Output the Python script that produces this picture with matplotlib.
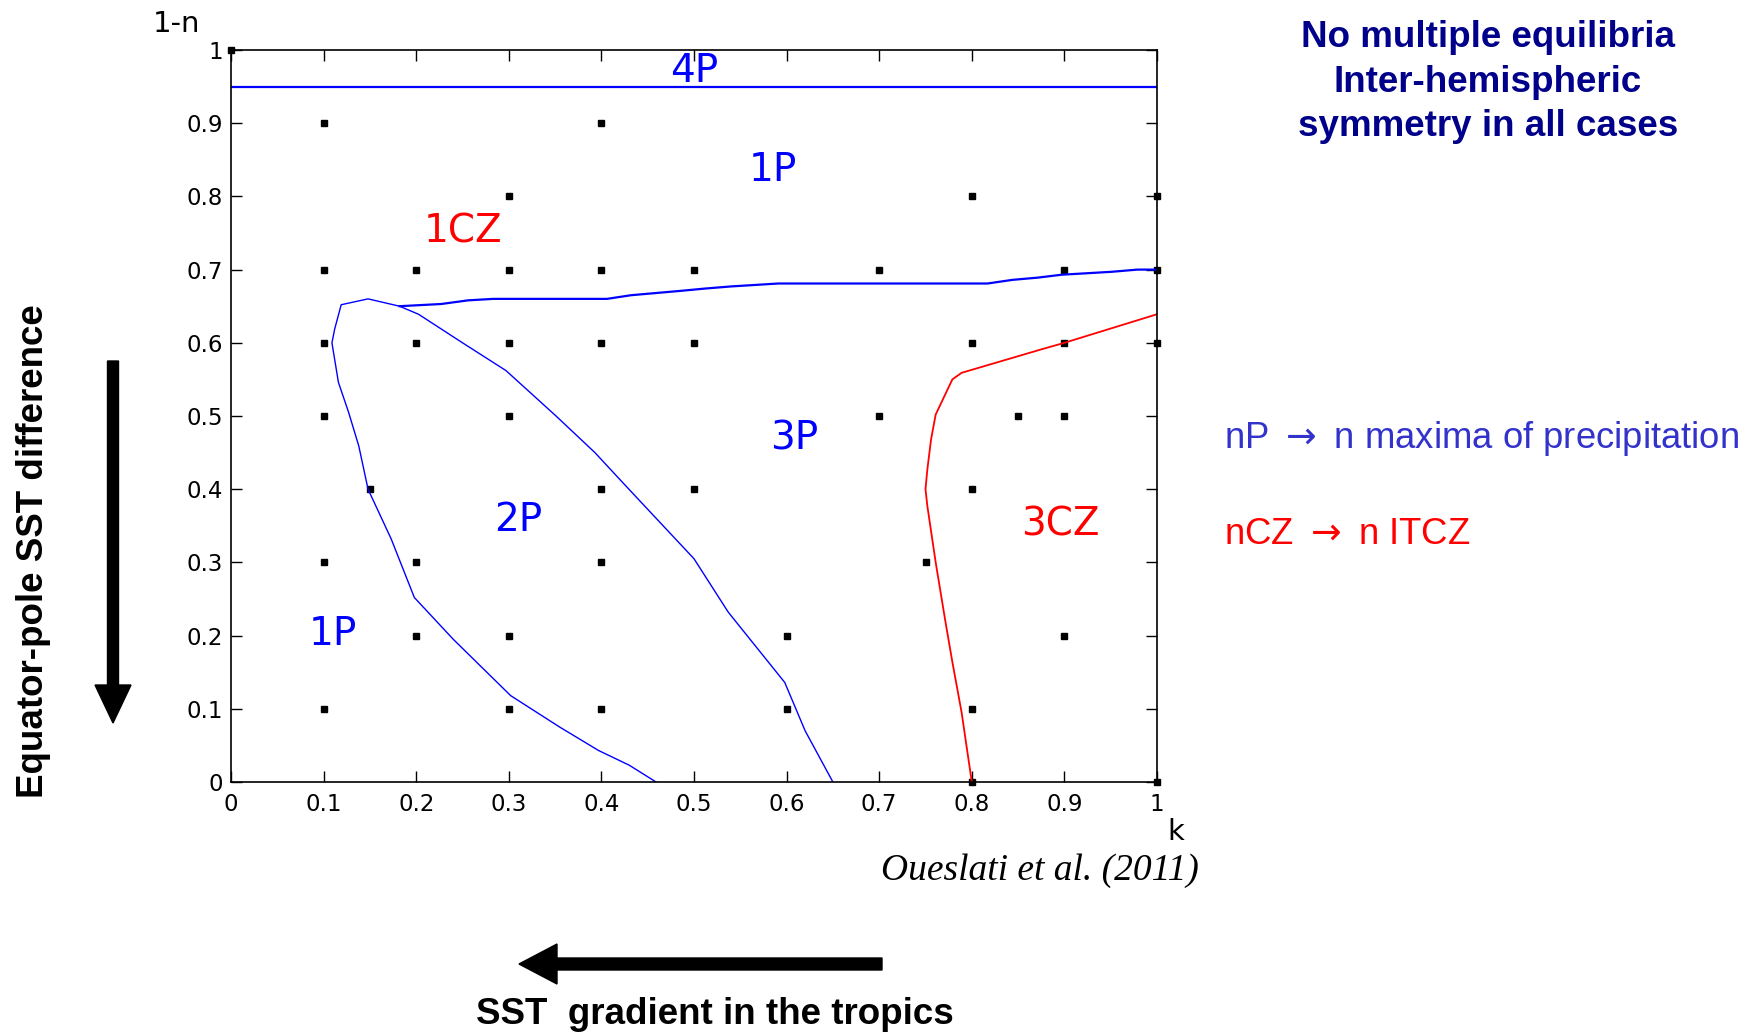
import matplotlib.pyplot as plt

# grid of model runs (k, 1-n)
run_k = [0.0, 0.1, 0.4,
         0.3, 0.8, 1.0,
         0.1, 0.2, 0.3, 0.4, 0.5, 0.7, 0.9, 1.0,
         0.1, 0.2, 0.3, 0.4, 0.5, 0.8, 0.9, 1.0,
         0.1, 0.3, 0.7, 0.85, 0.9,
         0.15, 0.4, 0.5, 0.8,
         0.1, 0.2, 0.4, 0.75,
         0.2, 0.3, 0.6, 0.9,
         0.1, 0.3, 0.4, 0.6, 0.8,
         0.8, 1.0]
run_n = [1.0, 0.9, 0.9,
         0.8, 0.8, 0.8,
         0.7, 0.7, 0.7, 0.7, 0.7, 0.7, 0.7, 0.7,
         0.6, 0.6, 0.6, 0.6, 0.6, 0.6, 0.6, 0.6,
         0.5, 0.5, 0.5, 0.5, 0.5,
         0.4, 0.4, 0.4, 0.4,
         0.3, 0.3, 0.3, 0.3,
         0.2, 0.2, 0.2, 0.2,
         0.1, 0.1, 0.1, 0.1, 0.1,
         0.0, 0.0]

# boundary of the 2P region (left branch, top, lower branch)
loop_k = [0.459, 0.43, 0.397, 0.355, 0.302, 0.24, 0.198, 0.173, 0.148, 0.138, 0.127,
          0.116, 0.109, 0.112, 0.119, 0.148, 0.182, 0.2025, 0.25, 0.297, 0.351, 0.393,
          0.426, 0.463, 0.5, 0.537, 0.598, 0.62, 0.65]
loop_n = [0.0, 0.023, 0.043, 0.075, 0.118, 0.195, 0.252, 0.332, 0.40, 0.459, 0.505,
          0.546, 0.60, 0.619, 0.652, 0.66, 0.65, 0.639, 0.60, 0.562, 0.50, 0.45,
          0.405, 0.355, 0.305, 0.232, 0.136, 0.07, 0.0]

# 1P / 3P boundary
upper_k = [0.182, 0.227, 0.256, 0.283, 0.406, 0.432, 0.459, 0.486, 0.511, 0.54, 0.591,
           0.817, 0.844, 0.871, 0.897, 0.924, 0.951, 0.979, 1.0]
upper_n = [0.65, 0.653, 0.658, 0.66, 0.66, 0.665, 0.668, 0.671, 0.674, 0.677, 0.681,
           0.681, 0.686, 0.689, 0.693, 0.695, 0.697, 0.70, 0.70]

# 3CZ boundary
cz_k = [0.80, 0.789, 0.779, 0.771, 0.761, 0.752, 0.750, 0.752, 0.756, 0.761, 0.779,
        0.789, 0.875, 0.90, 1.0]
cz_n = [0.0, 0.095, 0.164, 0.223, 0.30, 0.377, 0.40, 0.427, 0.468, 0.502, 0.55,
        0.559, 0.591, 0.60, 0.639]

four_p_n = 0.95

region_names = ["4P", "1P", "1CZ", "3P", "2P", "3CZ", "1P"]
region_k = [0.50, 0.585, 0.25, 0.608, 0.31, 0.896, 0.11]
region_n = [0.971, 0.836, 0.752, 0.469, 0.358, 0.352, 0.202]
region_col = ["blue", "blue", "red", "blue", "blue", "red", "blue"]

ticks = [0, 0.1, 0.2, 0.3, 0.4, 0.5, 0.6, 0.7, 0.8, 0.9, 1]
tick_labels = ["0", "0.1", "0.2", "0.3", "0.4", "0.5", "0.6", "0.7", "0.8", "0.9", "1"]

W, H = 1757, 1034
fig = plt.figure(figsize=(W / 100, H / 100), dpi=100)

# overlay in pixel coordinates for annotations and arrows
ov = fig.add_axes([0, 0, 1, 1])
ov.set_xlim(0, W)
ov.set_ylim(H, 0)
ov.axis("off")

sans = ["Liberation Sans", "DejaVu Sans"]
ov.arrow(113, 361, 0, 362, width=11, head_width=36, head_length=38,
         length_includes_head=True, color="black")
ov.arrow(882, 964, -363, 0, width=12, head_width=40, head_length=38,
         length_includes_head=True, color="black")
ov.text(34, 551, "Equator-pole SST difference", rotation=90, ha="center", va="center",
        fontsize=26.5, fontweight="bold", family=sans)
ov.text(715, 1014, "SST  gradient in the tropics", ha="center", va="center",
        fontsize=26.5, fontweight="bold", family=sans)
ov.text(1040, 871, "Oueslati et al. (2011)", ha="center", va="center",
        fontsize=27, style="italic", family="Liberation Serif")
ov.text(1488, 82, "No multiple equilibria\nInter-hemispheric\nsymmetry in all cases",
        ha="center", va="center", fontsize=26.5, fontweight="bold", color="#00008B",
        family=sans, linespacing=1.36)
ov.text(1224, 439, "nP $\\rightarrow$ n maxima of precipitation", ha="left", va="center",
        fontsize=26.3, color="#3333CC", family=sans)
ov.text(1224, 534, "nCZ $\\rightarrow$ n ITCZ", ha="left", va="center",
        fontsize=26.3, color="red", family=sans)

ax = fig.add_axes([231 / W, 1 - 782 / H, (1157 - 231) / W, (782 - 50) / H])
ax.set_facecolor("none")
ax.plot(run_k, run_n, "s", color="black", markersize=4.3, clip_on=False)
ax.plot(loop_k, loop_n, color="blue", lw=1.0)
ax.plot(upper_k, upper_n, color="blue", lw=1.6)
ax.plot(cz_k, cz_n, color="red", lw=1.3)
ax.axhline(four_p_n, color="blue", lw=1.6)
for name, k, n, c in zip(region_names, region_k, region_n, region_col):
    ax.text(k, n, name, color=c, fontsize=28, ha="center", va="center",
            family="DejaVu Sans")

ax.set_xlim(0, 1)
ax.set_ylim(0, 1)
ax.set_xticks(ticks)
ax.set_xticklabels(tick_labels)
ax.set_yticks(ticks)
ax.set_yticklabels(tick_labels)
ax.tick_params(direction="in", length=8, width=1, labelsize=16.5, top=True, right=True)
ax.tick_params(axis="x", pad=8)
ax.tick_params(axis="y", pad=6)
for s in ax.spines.values():
    s.set_linewidth(1.2)
ax.text(-0.033, 1.035, "1-n", transform=ax.transAxes, ha="right", va="center", fontsize=21)
ax.text(1.02, -0.068, "k", transform=ax.transAxes, ha="center", va="center", fontsize=21)

fig.savefig("out.png", dpi=100)
